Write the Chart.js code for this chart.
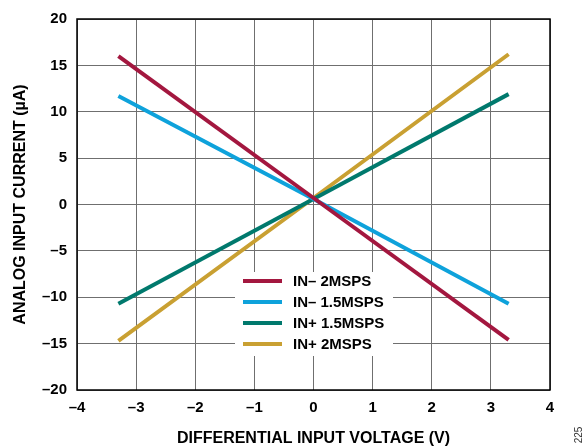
<!DOCTYPE html>
<html>
<head>
<meta charset="utf-8">
<script src="https://cdn.jsdelivr.net/npm/chart.js@4.4.1/dist/chart.umd.min.js"></script>
<style>
  html, body { margin: 0; padding: 0; background: #fff; }
  #wrap { width: 587px; height: 448px; }
</style>
</head>
<body>
<div id="wrap"><canvas id="corriente" width="587" height="448"></canvas></div>
<script>
// tensión diferencial (V) y corriente de entrada (µA)
const voltaje = [-3.3, 0, 3.3];
const inMenos2 = [16.0, 0.7, -14.6];
const inMenos15 = [11.7, 0.6, -10.7];
const inMas15 = [-10.7, 0.6, 11.9];
const inMas2 = [-14.7, 0.7, 16.2];

const etiquetas = ['IN\u2013 2MSPS', 'IN\u2013 1.5MSPS', 'IN+ 1.5MSPS', 'IN+ 2MSPS'];
const colores = ['#A3173F', '#0EA2DB', '#00796D', '#C9A032'];
const series = [inMenos2, inMenos15, inMas15, inMas2];

const fuente = "'Liberation Sans', Arial, sans-serif";
const guion = v => String(v).replace('-', '\u2013');

const ctx = document.getElementById('corriente').getContext('2d');

// marco negro, leyenda dentro del área y número de figura
const extras = {
  id: 'extras',
  beforeDatasetsDraw(chart) {
    const { ctx } = chart;
    ctx.save();
    ctx.fillStyle = '#fff';
    ctx.fillRect(235, 272, 158, 84);
    ctx.restore();
  },
  afterDatasetsDraw(chart) {
    const { ctx, chartArea: a } = chart;
    ctx.save();
    ctx.strokeStyle = '#000';
    ctx.lineWidth = 1.5;
    ctx.strokeRect(a.left, a.top, a.right - a.left, a.bottom - a.top);

    ctx.font = 'bold 15px ' + fuente;
    ctx.textBaseline = 'middle';
    ctx.fillStyle = '#000';
    chart.data.datasets.forEach((ds, i) => {
      const y = 281 + i * 21;
      ctx.strokeStyle = ds.borderColor;
      ctx.lineWidth = 4;
      ctx.beginPath();
      ctx.moveTo(243, y);
      ctx.lineTo(282, y);
      ctx.stroke();
      ctx.fillText(ds.label, 293, y + 1);
    });

    ctx.translate(579, 435);
    ctx.rotate(-Math.PI / 2);
    ctx.font = '10px ' + fuente;
    ctx.textAlign = 'center';
    ctx.fillStyle = '#333';
    ctx.fillText('225', 0, 0);
    ctx.restore();
  }
};

new Chart(ctx, {
  type: 'line',
  data: {
    labels: voltaje,
    datasets: series.map((s, i) => ({
      label: etiquetas[i],
      data: voltaje.map((x, j) => ({ x: x, y: s[j] })),
      borderColor: colores[i],
      backgroundColor: colores[i],
      borderWidth: 4,
      pointRadius: 0,
      tension: 0,
      fill: false
    }))
  },
  options: {
    responsive: false,
    animation: false,
    layout: { padding: { top: 13, right: 37, left: 0, bottom: 0 } },
    plugins: {
      legend: { display: false },
      tooltip: { enabled: false }
    },
    scales: {
      x: {
        type: 'linear',
        min: -4,
        max: 4,
        afterFit(scale) { scale.height = 58; },
        ticks: {
          stepSize: 1,
          padding: 9,
          color: '#000',
          font: { family: fuente, size: 15, weight: 'bold' },
          callback: v => guion(v)
        },
        grid: { color: '#6f6f6f', lineWidth: 1, tickLength: 0 },
        border: { display: false },
        title: {
          display: true,
          text: 'DIFFERENTIAL INPUT VOLTAGE (V)',
          color: '#000',
          font: { family: fuente, size: 16, weight: 'bold' },
          padding: { top: 0, bottom: 0 }
        }
      },
      y: {
        min: -20,
        max: 20,
        afterFit(scale) { scale.width = 77; },
        ticks: {
          stepSize: 5,
          padding: 10,
          color: '#000',
          font: { family: fuente, size: 15, weight: 'bold' },
          callback: v => guion(v)
        },
        grid: { color: '#6f6f6f', lineWidth: 1, tickLength: 0 },
        border: { display: false },
        title: {
          display: true,
          text: 'ANALOG INPUT CURRENT (\u00b5A)',
          color: '#000',
          font: { family: fuente, size: 16, weight: 'bold' },
          padding: { top: 11, bottom: 0 }
        }
      }
    }
  },
  plugins: [extras]
});
</script>
</body>
</html>
